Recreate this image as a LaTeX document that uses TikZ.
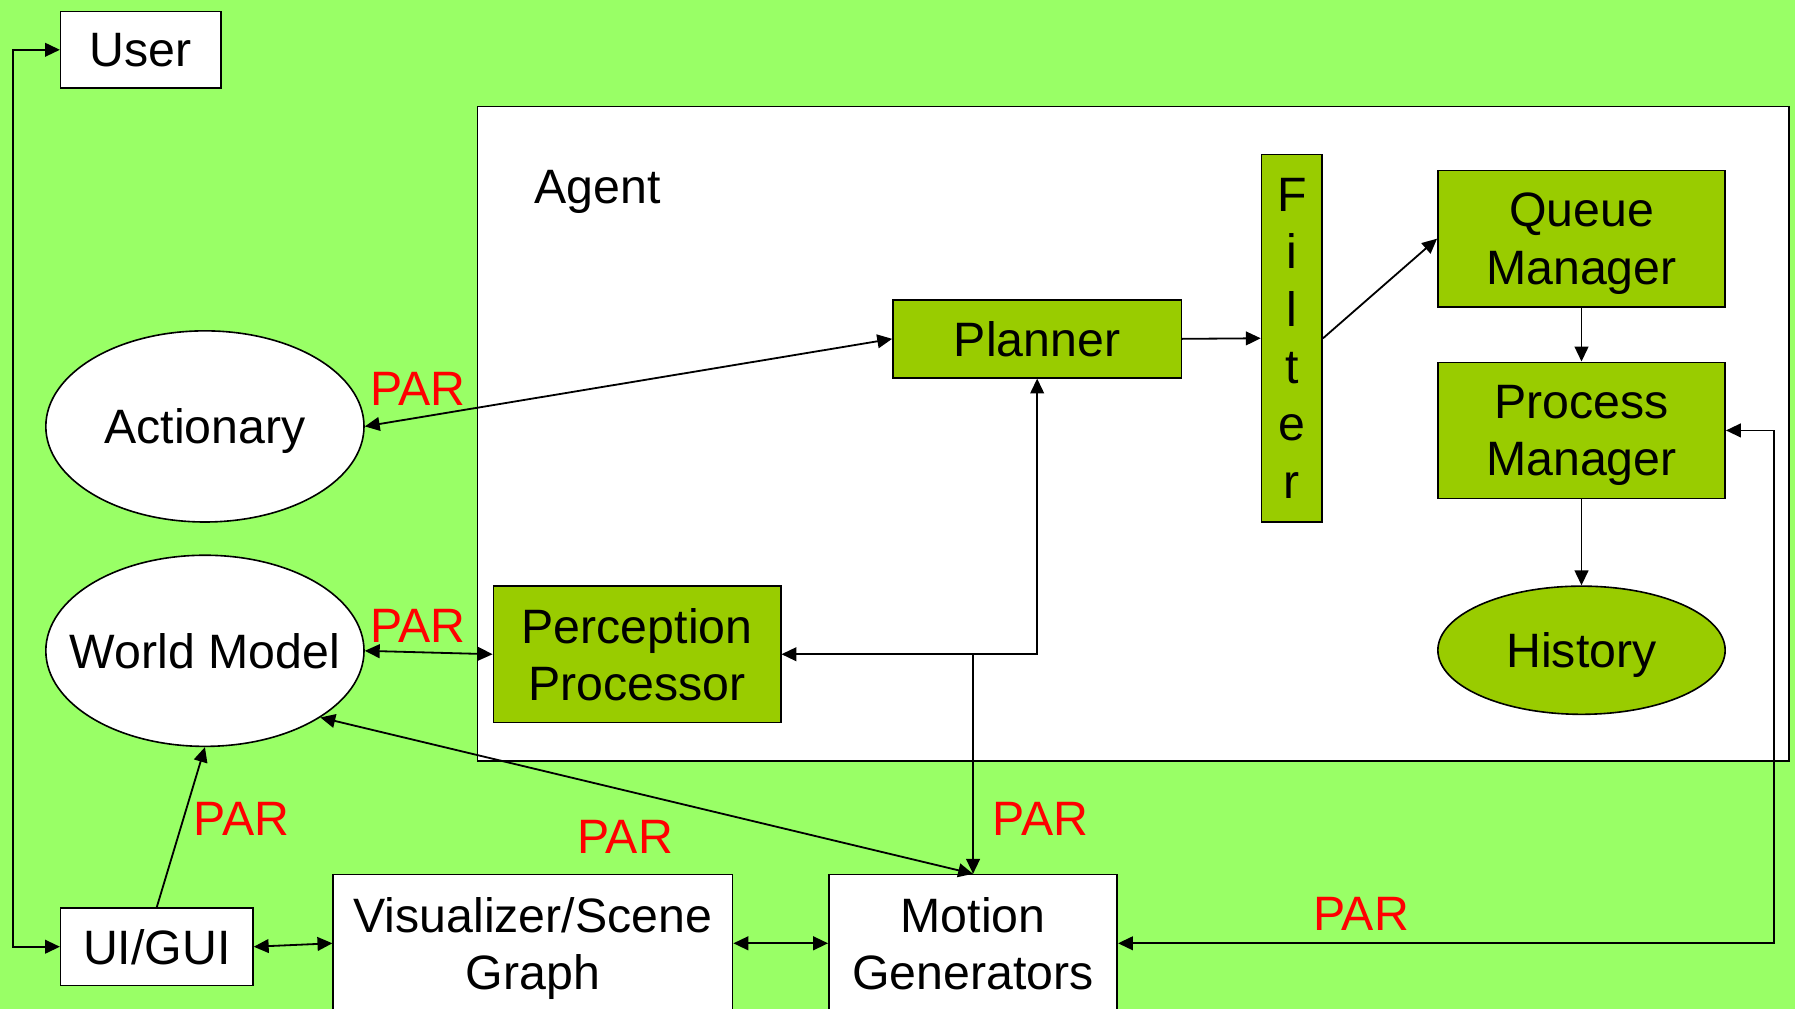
\documentclass[tikz,border=0pt]{standalone}
\usepackage{fontspec}
\setmainfont{Liberation Sans}
\usepackage{xcolor}
\usetikzlibrary{shapes,arrows.meta,positioning,calc}
\definecolor{bggreen}{RGB}{153,255,102}
\definecolor{boxgreen}{RGB}{153,204,0}
\newcommand{\diafont}{\fontsize{24}{28.5}\selectfont}
\tikzset{
    whitebox/.style={
        rectangle,
        draw=black,
        line width=0.8pt,
        fill=white,
        align=center,
        inner sep=0pt,
        text depth=0pt,
        font=\diafont
    },
    greenbox/.style={whitebox, fill=boxgreen},
    whiteoval/.style={
        ellipse,
        draw=black,
        line width=0.8pt,
        fill=white,
        inner sep=0pt,
        text depth=0pt,
        font=\diafont
    },
    greenoval/.style={whiteoval, fill=boxgreen},
    ovaltext/.style={label={[font=\diafont, text depth=0pt]center:#1}},
    parlabel/.style={text=red, font=\diafont},
    link/.style={
        line width=0.9pt,
        >={Triangle[length=0.26cm,width=0.24cm]}
    }
}

\begin{document}
\begin{tikzpicture}[x=0.02cm, y=-0.02cm]
% background
\fill[bggreen] (0,0) rectangle (1568,881);
\useasboundingbox (0,0) rectangle (1568,881);

% Agent
\node[whitebox, minimum width=22.92cm, minimum height=11.44cm] (agent) at (990,379) {};
\node[font=\diafont, text depth=0pt] (agent-label) at (522,163) {Agent};

% outside the agent
\node[whitebox, minimum width=2.8cm, minimum height=1.34cm] (user) at (123,43.5) {User};
\node[whiteoval, minimum width=5.56cm, minimum height=3.34cm, ovaltext=Actionary] (actionary) at (179,372.5) {};
\node[whiteoval, minimum width=5.56cm, minimum height=3.34cm, ovaltext=World Model] (world-model) at (179,568.5) {};
\node[whitebox, minimum width=3.36cm, minimum height=1.36cm] (ui) at (137,827) {UI/GUI};
\node[whitebox, minimum width=6.98cm, minimum height=2.4cm] (visualizer) at (465.5,824) {Visualizer/Scene\\Graph};
\node[whitebox, minimum width=5.04cm, minimum height=2.4cm] (motion) at (850,824) {Motion\\Generators};

% inside the agent
\node[greenbox, minimum width=5.04cm, minimum height=1.36cm] (planner) at (906,296) {Planner};
\node[greenbox, minimum width=1.06cm, minimum height=6.42cm] (filter) at (1128.5,295.5) {F\\i\\l\\t\\e\\r};
\node[greenbox, minimum width=5.02cm, minimum height=2.38cm] (queue-mgr) at (1381.5,208.5) {Queue\\Manager};
\node[greenbox, minimum width=5.02cm, minimum height=2.38cm] (process-mgr) at (1381.5,376) {Process\\Manager};
\node[greenoval, minimum width=5.02cm, minimum height=2.24cm, ovaltext=History] (history) at (1381.5,568) {};
\node[greenbox, minimum width=5.02cm, minimum height=2.38cm] (perception) at (556.5,571.5) {Perception\\Processor};

% PAR labels
\node[parlabel] (par-actionary) at (365,340) {PAR};
\node[parlabel] (par-world) at (365,547) {PAR};
\node[parlabel] (par-ui) at (211,715) {PAR};
\node[parlabel] (par-visual) at (546,731) {PAR};
\node[parlabel] (par-motion) at (909,715) {PAR};
\node[parlabel] (par-process) at (1189,798) {PAR};

% connections
\draw[link, <->] (user.west) -- ++(-41,0) |- (ui.west);
\draw[link, ->] (ui.north) -- (world-model.south);
\draw[link, <->] (ui.east) -- (visualizer.west);
\draw[link, <->] (visualizer.east) -- (motion.west);
\draw[link, <->] (motion.east) -| ([xshift=0.84cm]process-mgr.east) -- (process-mgr.east);
\draw[link, <->] (world-model.-30) -- (motion.north);
\draw[link, <->] (perception.east) -| (planner.south);
\draw[link, ->] (motion.north |- perception.east) -- (motion.north);
\draw[link, <->] (world-model.east) -- (perception.west);
\draw[link, <->] (actionary.east) -- (planner.west);
\draw[link, ->] (planner.east) -- (filter.west);
\draw[link, ->] (filter.east) -- (queue-mgr.west);
\draw[link, ->] (queue-mgr.south) -- (process-mgr.north);
\draw[link, ->] (process-mgr.south) -- (history.north);
\end{tikzpicture}
\end{document}
